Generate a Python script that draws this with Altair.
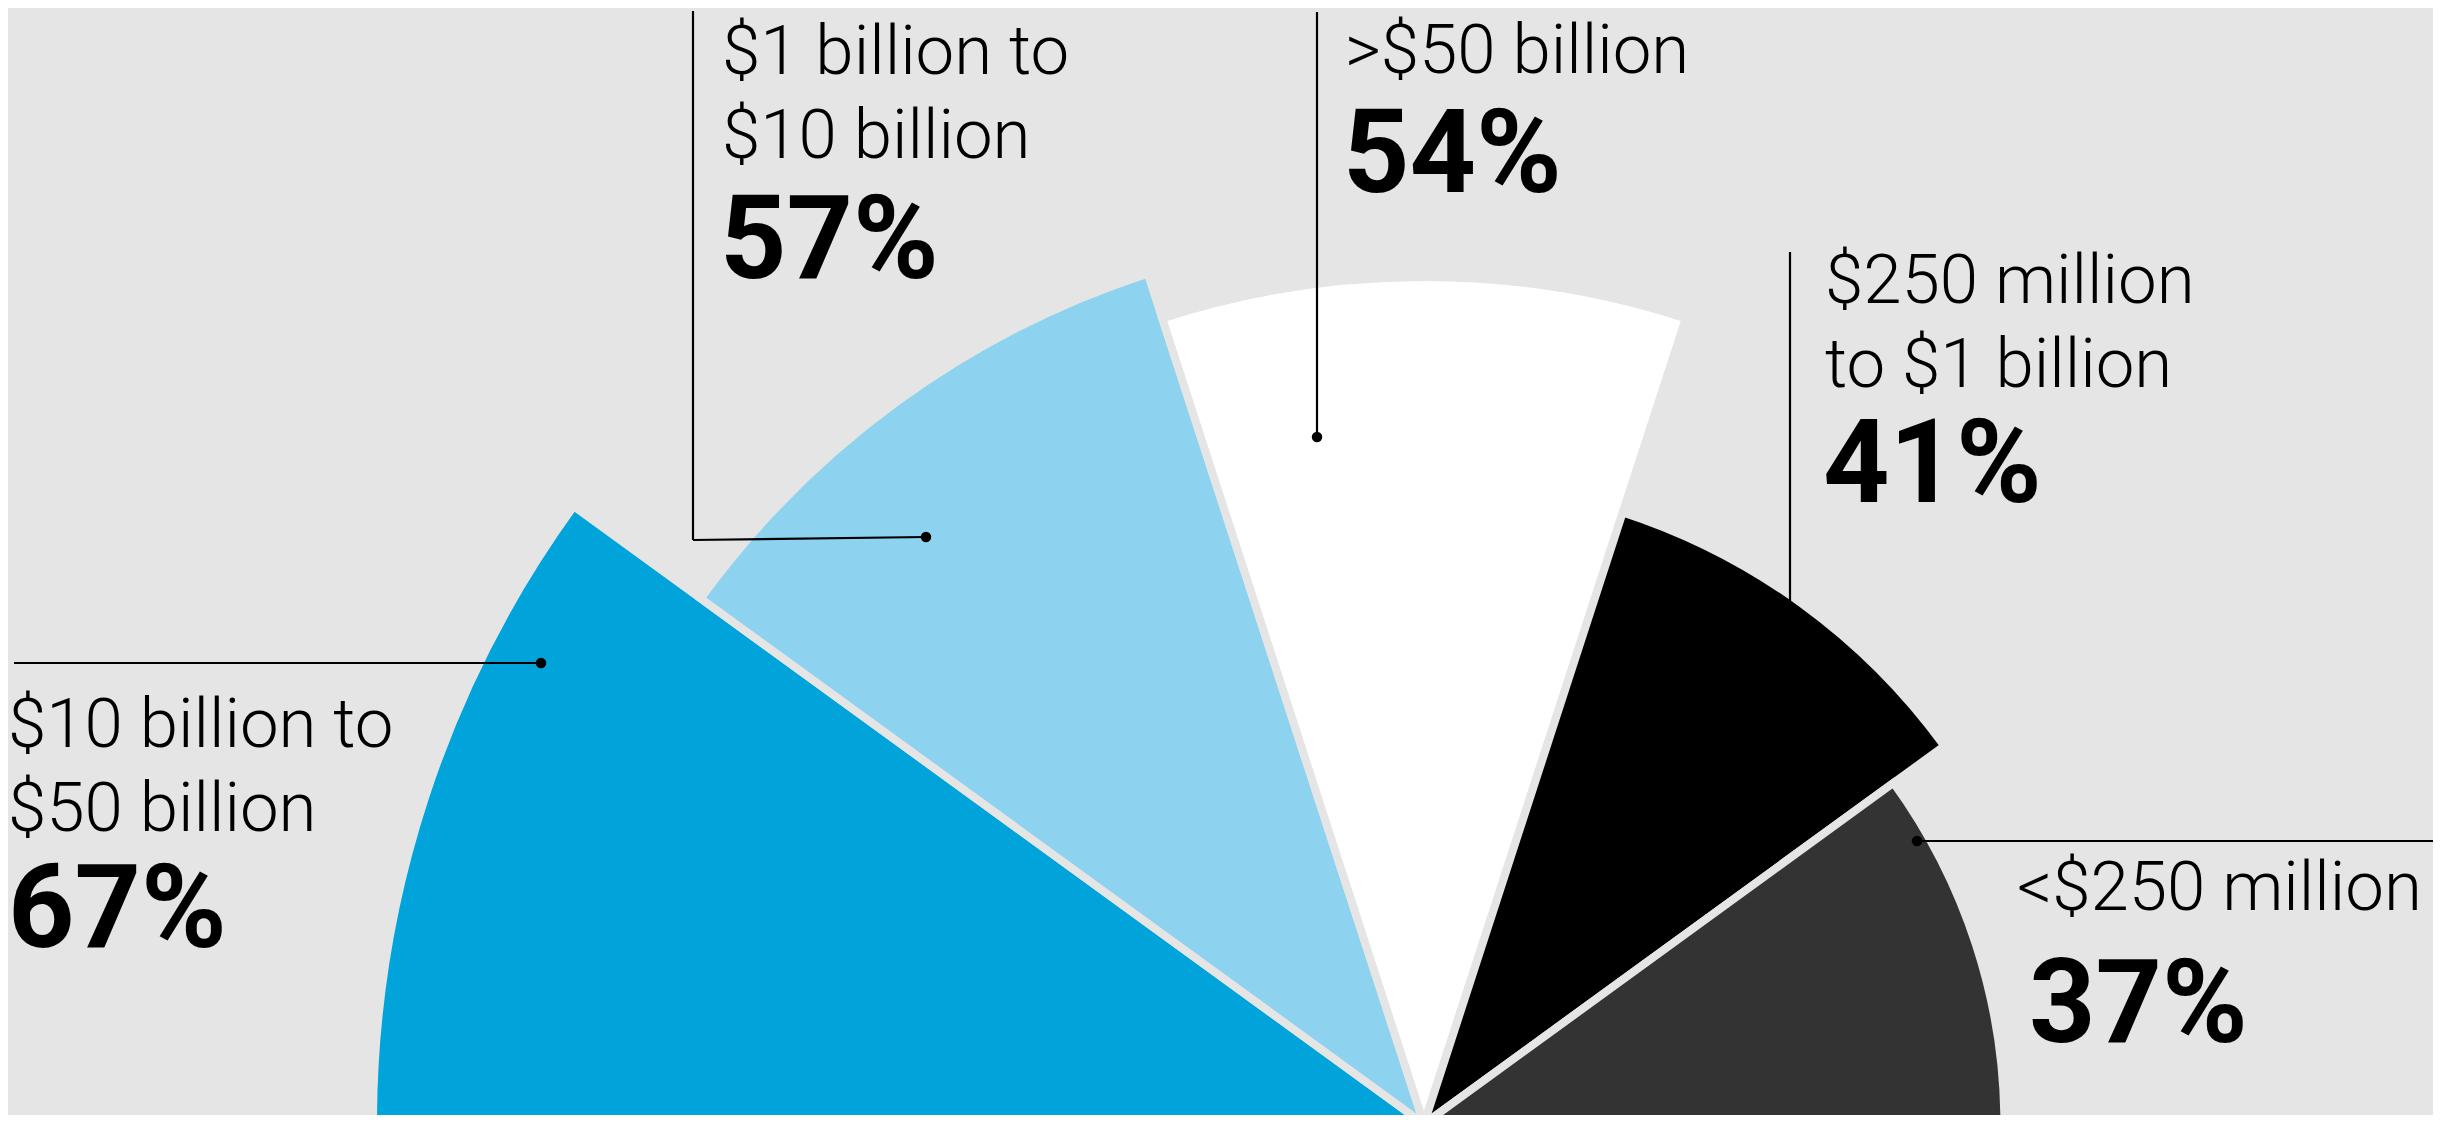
import math
import altair as alt
import pandas as pd

# ---- data ----
categories = ["$10 billion to $50 billion", "$1 billion to $10 billion", ">$50 billion",
              "$250 million to $1 billion", "<$250 million"]
values = [67, 57, 54, 41, 37]
label_lines = [["$10 billion to", "$50 billion"], ["$1 billion to", "$10 billion"], [">$50 billion"],
               ["$250 million", "to $1 billion"], ["<$250 million"]]

# ---- styling / layout ----
colors = ["#00A3DA", "#8DD3EF", "#FFFFFF", "#000000", "#333333"]
BG = "#E5E5E5"
W, H = 2425, 1107          # chart size (page has 8px margin)
X0, Y0 = 8, 8              # page offset of the chart
CX, CY = 1424, 1124        # centre of the half-disc (page coords)
R_MAX = 1051               # outer radius for the largest value

label_x = [8, 722, 1345, 1825, 2017]
pct_x = [8, 720, 1343, 1823, 2029]
first_base = [747, 74, 73, 303, 910]
line_gap = 83.5
pct_base = [947, 278, 192, 502, 1042]
# leader segments (x1, y1, x2, y2) and dots, page coords
segments = [
    [(14, 663, 541, 663)],
    [(693, 11, 693, 540), (693, 540, 926, 537)],
    [(1317, 12, 1317, 437)],
    [(1790, 252, 1790, 650)],
    [(1917, 841, 2441, 841)],
]
dots = [(541, 663), (926, 537), (1317, 437), (1790, 650), (1917, 841)]

n = len(categories)
slices = pd.DataFrame({
    "cat": categories,
    "value": values,
    "idx": list(range(n)),
    "cx": [CX] * n,
    "cy": [CY] * n,
})

text_rows = []
for i, lines in enumerate(label_lines):
    for j, t in enumerate(lines):
        text_rows.append({"text": t, "x": label_x[i], "y": first_base[i] + j * line_gap, "kind": "label"})
    text_rows.append({"text": f"{values[i]}%", "x": pct_x[i], "y": pct_base[i], "kind": "pct"})
texts = pd.DataFrame(text_rows)

seg_rows = []
for i, segs in enumerate(segments):
    for (a, b, c, d) in segs:
        seg_rows.append({"x1": a, "y1": b, "x2": c, "y2": d})
segs_df = pd.DataFrame(seg_rows)
dots_df = pd.DataFrame({"x": [d[0] for d in dots], "y": [d[1] for d in dots]})

xs = alt.Scale(domain=[X0, X0 + W], range=[0, W], zero=False, nice=False)
ys = alt.Scale(domain=[Y0, Y0 + H], range=[0, H], zero=False, nice=False)

arcs = alt.Chart(slices).mark_arc(stroke=BG, strokeWidth=8).transform_calculate(
    t0=f"-PI/2 + datum.idx * PI / {n}",
    t1=f"-PI/2 + (datum.idx + 1) * PI / {n}",
).encode(
    x=alt.X("cx:Q", scale=xs, axis=None),
    y=alt.Y("cy:Q", scale=ys, axis=None),
    theta=alt.Theta("t0:Q", scale=None),
    theta2="t1:Q",
    radius=alt.Radius("value:Q", scale=alt.Scale(type="linear", domain=[0, max(values)], range=[0, R_MAX])),
    color=alt.Color("cat:N", scale=alt.Scale(domain=categories, range=colors), legend=None),
)

rules = alt.Chart(segs_df).mark_rule(color="black", strokeWidth=2.2).encode(
    x=alt.X("x1:Q", scale=xs, axis=None),
    y=alt.Y("y1:Q", scale=ys, axis=None),
    x2="x2:Q",
    y2="y2:Q",
)

points = alt.Chart(dots_df).mark_circle(color="black", size=110, opacity=1).encode(
    x=alt.X("x:Q", scale=xs, axis=None),
    y=alt.Y("y:Q", scale=ys, axis=None),
)

labels = alt.Chart(texts).transform_filter("datum.kind == 'label'").mark_text(
    align="left", baseline="alphabetic", font="Roboto", fontWeight=300, fontSize=69, color="black"
).encode(
    x=alt.X("x:Q", scale=xs, axis=None),
    y=alt.Y("y:Q", scale=ys, axis=None),
    text="text:N",
)

pcts = alt.Chart(texts).transform_filter("datum.kind == 'pct'").mark_text(
    align="left", baseline="alphabetic", font="Roboto", fontWeight="bold", fontSize=116, color="black"
).encode(
    x=alt.X("x:Q", scale=xs, axis=None),
    y=alt.Y("y:Q", scale=ys, axis=None),
    text="text:N",
)

chart = alt.layer(arcs, rules, points, labels, pcts).properties(
    width=W, height=H, background=BG, padding=0, autosize="none"
).configure_view(stroke=None)

chart.save("out.html", embed_options={"renderer": "svg", "actions": False})
